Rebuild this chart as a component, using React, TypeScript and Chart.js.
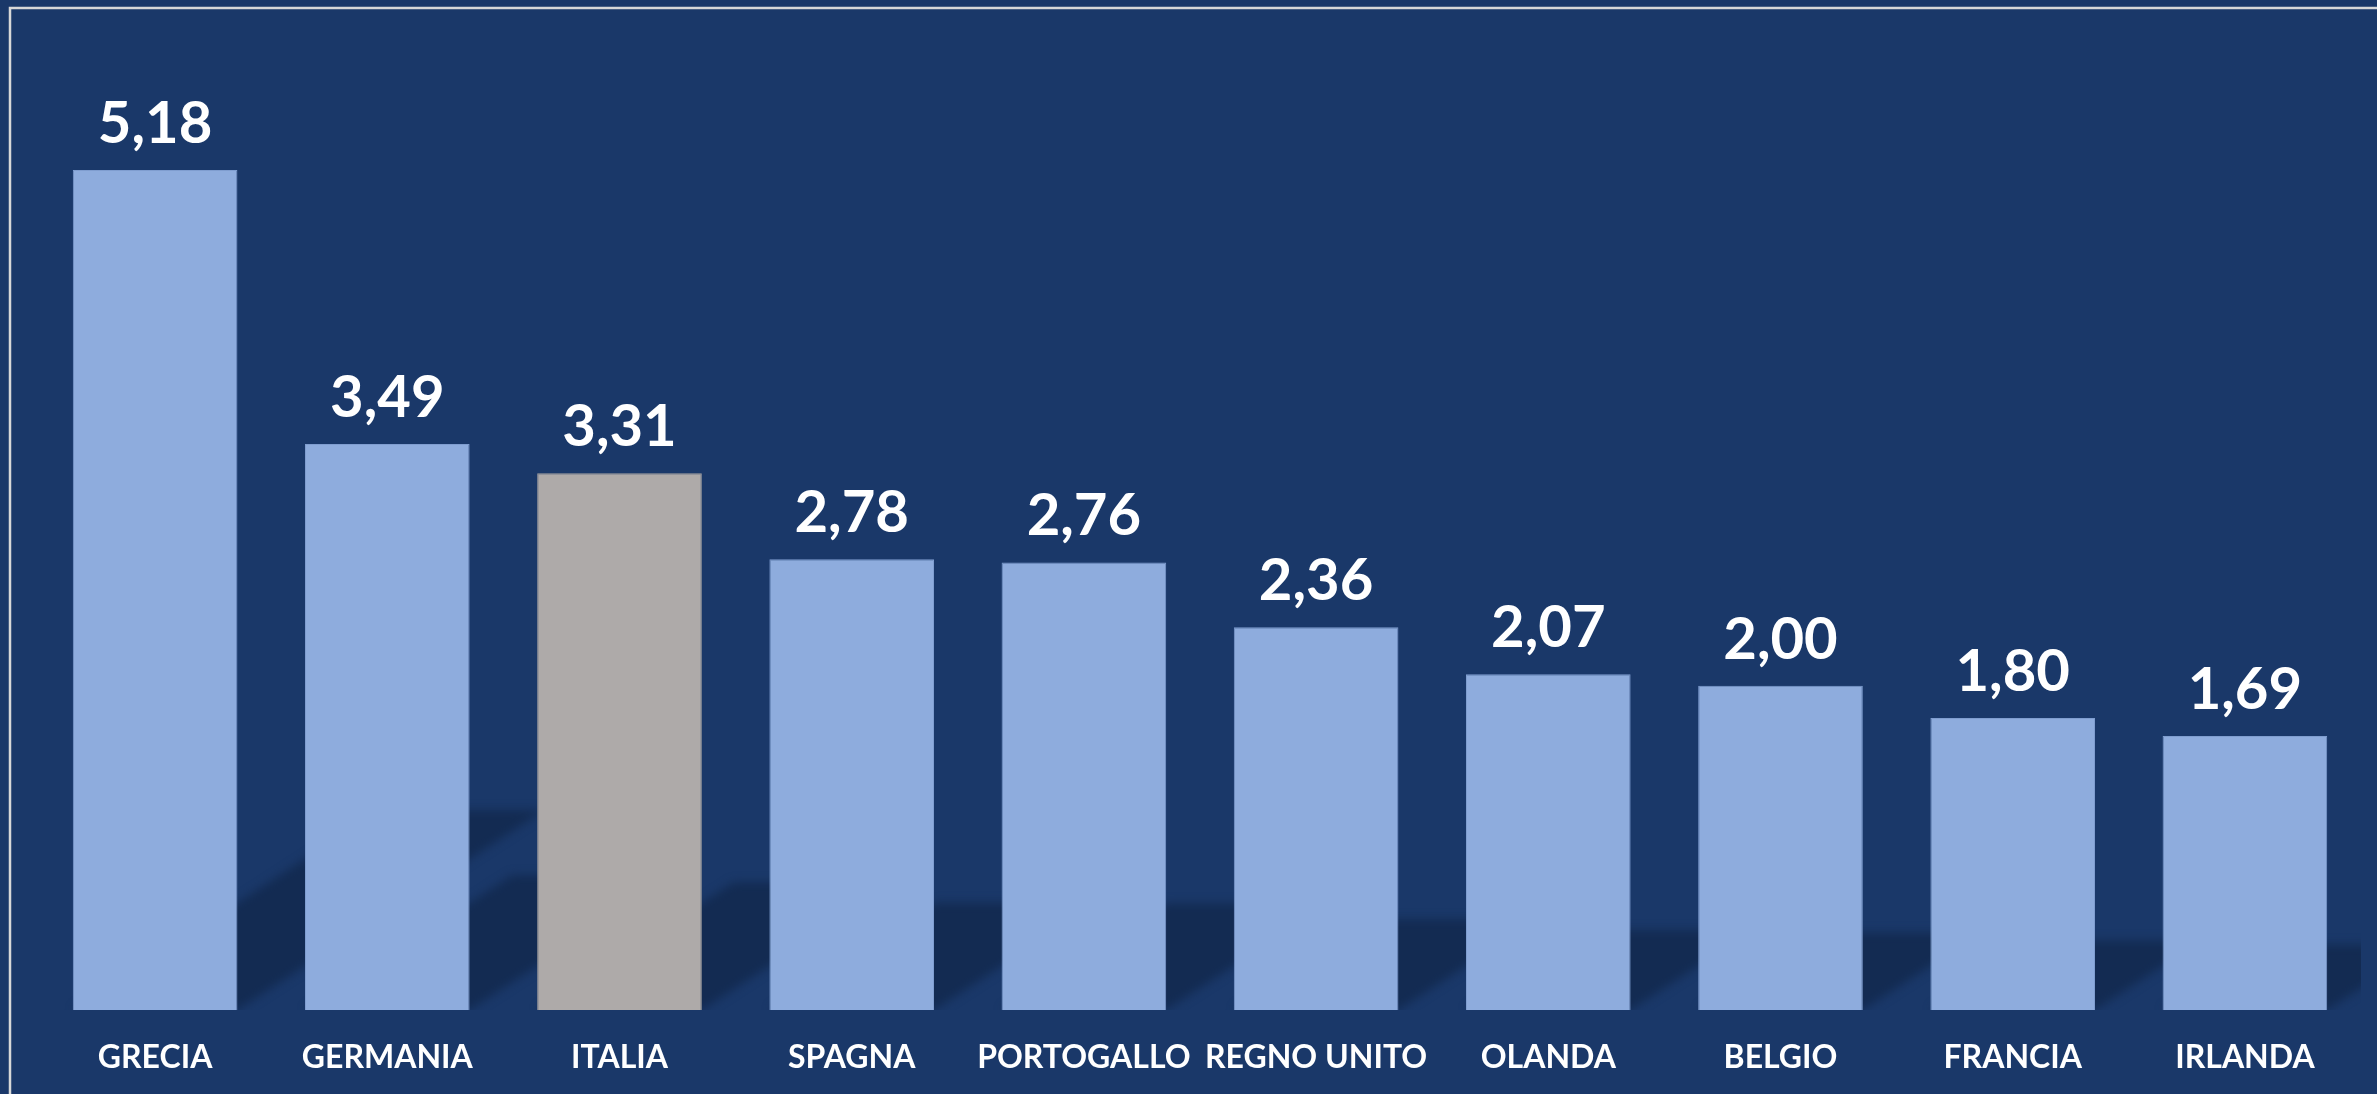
import React, { useEffect, useRef } from "react";
import { Chart, registerables } from "chart.js";

Chart.register(...registerables);

const categories = ["GRECIA", "GERMANIA", "ITALIA", "SPAGNA", "PORTOGALLO", "REGNO UNITO", "OLANDA", "BELGIO", "FRANCIA", "IRLANDA"];
const values = [5.18, 3.49, 3.31, 2.78, 2.76, 2.36, 2.07, 2.0, 1.8, 1.69];
const highlight = "ITALIA";

const W = 2377;
const H = 1094;
const BG = "#1a3869";
const BAR = "#8eacdd";
const BAR_HL = "#aeaaa9";
const SHADOW = "#132b52";
const FONT = "Lato, 'Open Sans', sans-serif";

// perspective shadow: horizontal / vertical reach as fraction of bar height
const SHADOW_DX = 0.366;
const SHADOW_DY = 0.238;

const fmt = (v: number) => v.toFixed(2).replace(".", ",");

const backgroundPlugin = {
  id: "bgBorder",
  beforeDraw(chart: any) {
    const ctx = chart.ctx;
    ctx.save();
    ctx.fillStyle = BG;
    ctx.fillRect(0, 0, chart.width, chart.height);
    ctx.strokeStyle = "#d8d8d8";
    ctx.lineWidth = 2.5;
    ctx.strokeRect(10, 8, chart.width + 20, chart.height + 20);
    ctx.restore();
  },
};

const shadowPlugin = {
  id: "barShadow",
  beforeDatasetsDraw(chart: any) {
    const meta = chart.getDatasetMeta(0);
    const base = chart.scales.y.getPixelForValue(0);
    const ca = chart.chartArea;
    const off = document.createElement("canvas");
    off.width = chart.width;
    off.height = chart.height;
    const o = off.getContext("2d")!;
    o.fillStyle = SHADOW;
    meta.data.forEach((bar: any) => {
      const { x, y, width } = bar.getProps(["x", "y", "width"], true);
      const L = x - width / 2;
      const R = x + width / 2;
      const h = base - y;
      const dx = h * SHADOW_DX;
      const dy = h * SHADOW_DY;
      o.beginPath();
      o.moveTo(L, base);
      o.lineTo(R, base);
      o.lineTo(R + dx, base - dy);
      o.lineTo(L + dx, base - dy);
      o.closePath();
      o.fill();
    });
    const ctx = chart.ctx;
    ctx.save();
    ctx.beginPath();
    ctx.rect(ca.left, ca.top, ca.right - ca.left, base - ca.top);
    ctx.clip();
    ctx.filter = "blur(5px)";
    ctx.drawImage(off, 0, 0);
    ctx.restore();
  },
};

const valueLabelPlugin = {
  id: "valueLabels",
  afterDatasetsDraw(chart: any) {
    const ctx = chart.ctx;
    const meta = chart.getDatasetMeta(0);
    ctx.save();
    ctx.fillStyle = "#ffffff";
    ctx.font = `bold 58px ${FONT}`;
    ctx.textAlign = "center";
    ctx.textBaseline = "alphabetic";
    meta.data.forEach((bar: any, i: number) => {
      const { x, y } = bar.getProps(["x", "y"], true);
      ctx.fillText(fmt(values[i]), x, y - 27);
    });
    ctx.restore();
  },
};

export default function App() {
  const ref = useRef<HTMLCanvasElement>(null);
  useEffect(() => {
    document.body.style.margin = "0";
    const chart = new Chart(ref.current!, {
      type: "bar",
      data: {
        labels: categories,
        datasets: [
          {
            data: values,
            backgroundColor: categories.map((c) => (c === highlight ? BAR_HL : BAR)),
            borderColor: categories.map((c) => (c === highlight ? "#a5a1a0" : "#7f9dcf")),
            borderWidth: 1,
            barPercentage: 0.709,
            categoryPercentage: 1,
          },
        ],
      },
      options: {
        responsive: false,
        animation: false,
        layout: { padding: { left: 39, right: 16, top: 37, bottom: 0 } },
        plugins: { legend: { display: false }, tooltip: { enabled: false } },
        scales: {
          x: {
            grid: { display: false, drawTicks: false },
            border: { display: false },
            ticks: {
              color: "#ffffff",
              font: { family: FONT, size: 32, weight: "bold" },
              padding: 28,
              maxRotation: 0,
              autoSkip: false,
            },
            afterFit: (scale: any) => {
              scale.height = 84;
            },
          },
          y: {
            display: false,
            min: 0,
            max: 6,
          },
        },
      },
      plugins: [backgroundPlugin, shadowPlugin, valueLabelPlugin],
    });
    return () => chart.destroy();
  }, []);
  return (
    <div style={{ position: "absolute", left: 0, top: 0, width: W, height: H }}>
      <canvas ref={ref} width={W} height={H} style={{ display: "block" }} />
    </div>
  );
}
